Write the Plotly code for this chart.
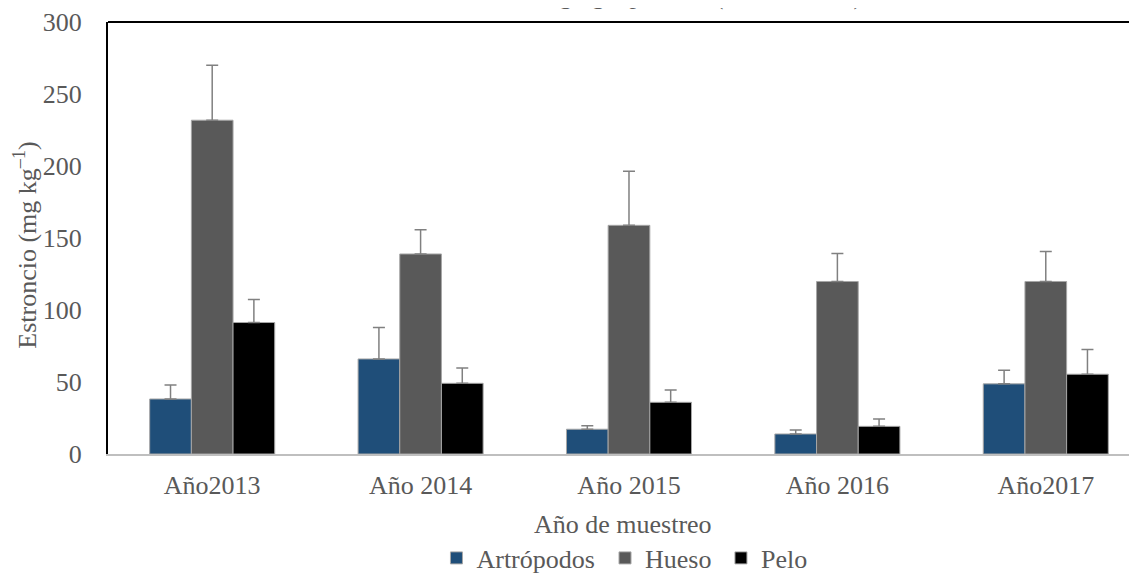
import plotly.graph_objects as go

categories = ["Año2013", "Año 2014", "Año 2015", "Año 2016", "Año2017"]
series_names = ["Artrópodos", "Hueso", "Pelo"]
artropodos = [38.2, 66.0, 17.2, 13.9, 48.7]
artropodos_err = [9.8, 21.8, 2.5, 2.8, 9.5]
hueso = [231.8, 138.9, 158.8, 119.8, 119.8]
hueso_err = [38.2, 16.9, 37.5, 19.5, 20.9]
pelo = [91.3, 49.1, 35.9, 19.2, 55.4]
pelo_err = [16.0, 10.7, 8.6, 5.1, 17.1]
y_ticks = [0, 50, 100, 150, 200, 250, 300]

values = [artropodos, hueso, pelo]
errors = [artropodos_err, hueso_err, pelo_err]
colors = ["#1f4e79", "#595959", "#000000"]
legend_ids = ["legend", "legend2", "legend3"]
legend_x = [0.3795, 0.5288, 0.6315]

FONT = "Liberation Serif"
GRAY = "#595959"
FS = 26

fig = go.Figure()
for name, vals, errs, col, lid in zip(series_names, values, errors, colors, legend_ids):
    fig.add_trace(go.Bar(
        x=categories, y=vals, name=name, legend=lid,
        marker=dict(color=col, line=dict(color="#a6a6a6", width=1)),
        error_y=dict(type="data", array=errs, symmetric=False,
                     arrayminus=[0] * len(errs), color="#808080",
                     thickness=1.5, width=6),
    ))

legend_common = dict(orientation="h", xref="container", yref="container",
                     xanchor="left", y=0.0283, yanchor="middle",
                     font=dict(size=FS, color=GRAY, family=FONT),
                     bgcolor="rgba(0,0,0,0)", borderwidth=0)

ann_font = dict(size=FS, color=GRAY, family=FONT)

fig.update_layout(
    width=1129, height=566,
    margin=dict(l=100, r=0, t=14, b=120),
    paper_bgcolor="white", plot_bgcolor="white",
    font=dict(family=FONT, size=FS, color=GRAY),
    barmode="group", bargap=0.4, bargroupgap=0,
    showlegend=True,
    legend=dict(x=legend_x[0], **legend_common),
    legend2=dict(x=legend_x[1], **legend_common),
    legend3=dict(x=legend_x[2], **legend_common),
    xaxis=dict(
        range=[-0.5, 4.4377], showgrid=False, zeroline=False,
        showline=True, linecolor="#bfbfbf", linewidth=2,
        ticks="", tickfont=dict(size=FS, color=GRAY, family=FONT), ticklabelstandoff=7,
    ),
    yaxis=dict(
        range=[0, 300], tickvals=y_ticks, showgrid=False, zeroline=False,
        showline=True, linecolor="#000000", linewidth=2,
        ticks="", tickfont=dict(size=FS, color=GRAY, family=FONT), ticklabelstandoff=19,
    ),
    shapes=[dict(type="line", xref="paper", yref="paper", x0=0, x1=1, y0=1, y1=1,
                 line=dict(color="#000000", width=2))],
    annotations=[
        dict(text="Estroncio mg kg<sup>–1</sup> por año (2013 – 2017)", xref="paper", yref="paper",
             x=0.3139, y=1.0658, xanchor="left", yanchor="middle",
             showarrow=False, font=ann_font),
        dict(text="Estroncio (mg kg<sup>–1</sup>)", xref="paper", yref="paper",
             x=-0.0797, y=0.4844, xanchor="center", yanchor="middle", textangle=-90,
             showarrow=False, font=ann_font),
        dict(text="Año de muestreo", xref="paper", yref="paper",
             x=(622.5 - 108) / 1029, y=-0.1622, xanchor="center", yanchor="middle",
             showarrow=False, font=ann_font),
    ],
)

fig.write_html("out.html")
